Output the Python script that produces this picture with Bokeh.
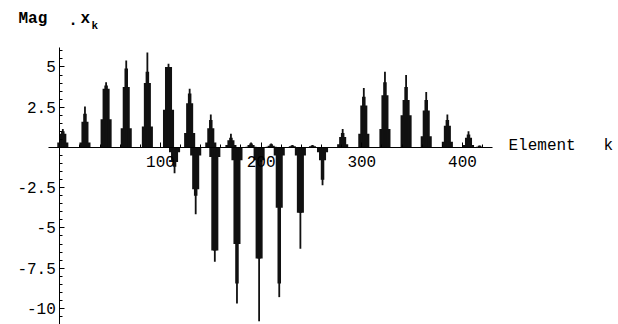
from bokeh.plotting import figure
from bokeh.models import ColumnDataSource, LinearAxis, FixedTicker, Label, Range1d
from bokeh.embed import file_html
from bokeh.resources import INLINE

# Positive clusters: element index and magnitudes at several levels (tip, neck, body, base)
pos_k = [3, 25, 46, 66, 87, 108, 129, 150, 170, 190, 210, 231, 251, 281, 302, 323, 344, 364, 385, 406, 417]
pos_tip = [1.15, 2.55, 4.05, 5.4, 5.9, 5.2, 3.65, 2.05, 0.85, 0.3, 0.25, 0.15, 0.15, 1.15, 3.7, 4.7, 4.5, 3.45, 2.05, 1.0, 0.12]
pos_neck = [1.0, 2.1, 3.85, 4.9, 4.7, 5.0, 3.35, 1.7, 0.6, 0.25, 0.2, 0.12, 0.12, 0.9, 3.15, 4.05, 3.75, 2.95, 1.7, 0.8, 0.1]
pos_body = [0.85, 1.6, 3.65, 3.75, 4.0, 5.0, 2.75, 1.2, 0.45, 0.15, 0.1, 0.08, 0.08, 0.65, 2.6, 3.25, 2.95, 2.3, 1.35, 0.6, 0.05]
pos_base = [0.3, 0.3, 1.75, 1.2, 1.3, 2.35, 0.9, 0.3, 0.15, 0.05, 0.05, 0.03, 0.03, 0.2, 0.85, 1.15, 2.0, 0.7, 0.35, 0.15, 0.02]

# Negative clusters
neg_k = [114, 135, 154, 176, 198, 218, 239, 261]
neg_tip = [-1.6, -4.15, -7.1, -9.7, -10.8, -9.3, -6.3, -2.35]
neg_neck = [-1.2, -3.0, -6.4, -8.45, -6.9, -8.45, -4.05, -2.0]
neg_body = [-0.9, -2.6, -6.4, -6.0, -6.9, -3.75, -4.05, -0.8]
neg_base = [-0.3, -0.5, -0.6, -0.8, -0.8, -0.5, -0.5, -0.3]

x_ticks = [100, 200, 300, 400]
x_tick_labels = ["100", "200", "300", "400"]
y_ticks = [-10, -7.5, -5, -2.5, 2.5, 5]
y_tick_labels = ["-10", "-7.5", "-5", "-2.5", "2.5", "5"]

BAR = "#111111"
FONT = "Liberation Mono"

p = figure(width=618, height=324, output_backend="svg", toolbar_location=None,
           x_range=Range1d(-58.9, 555.0), y_range=Range1d(-11.0, 9.13),
           x_axis_type=None, y_axis_type=None,
           min_border_left=0, min_border_right=0, min_border_top=0, min_border_bottom=0)
p.outline_line_color = None
p.background_fill_color = "white"
p.border_fill_color = "white"

pos = ColumnDataSource(dict(k=pos_k, tip=pos_tip, neck=pos_neck, body=pos_body, base=pos_base))
neg = ColumnDataSource(dict(k=neg_k, tip=neg_tip, neck=neg_neck, body=neg_body, base=neg_base))

widths = [("base", 11), ("body", 7), ("neck", 3.5), ("tip", 1.8)]
for col, w in widths:
    p.vbar(x="k", width=w, top=col, bottom=0, source=pos, fill_color=BAR, line_color=None)
    p.vbar(x="k", width=w, top=0, bottom=col, source=neg, fill_color=BAR, line_color=None)

xaxis = LinearAxis(fixed_location=0, bounds=(-11, 430),
                   ticker=FixedTicker(ticks=x_ticks, minor_ticks=[m for m in range(0, 430, 20) if m not in x_ticks]))
xaxis.major_label_overrides = dict(zip(x_ticks, x_tick_labels))
xaxis.major_tick_in = 5
xaxis.major_tick_out = 0
xaxis.minor_tick_in = 3
xaxis.minor_tick_out = 0
xaxis.major_label_standoff = 9
xaxis.major_label_text_font = FONT
xaxis.major_label_text_font_size = "16px"
xaxis.major_label_text_color = "black"
xaxis.axis_line_color = "black"
p.add_layout(xaxis, "below")

yaxis = LinearAxis(fixed_location=0, bounds=(-11.0, 6.2),
                   ticker=FixedTicker(ticks=y_ticks, minor_ticks=[m * 0.5 for m in range(-22, 13) if m * 0.5 not in y_ticks]))
yaxis.major_label_overrides = dict(zip(y_ticks, y_tick_labels))
yaxis.major_tick_in = 5
yaxis.major_tick_out = 0
yaxis.minor_tick_in = 3
yaxis.minor_tick_out = 0
yaxis.major_label_standoff = 4
yaxis.major_label_text_font = FONT
yaxis.major_label_text_font_size = "16px"
yaxis.major_label_text_color = "black"
yaxis.axis_line_color = "black"
p.add_layout(yaxis, "left")

lab = dict(text_font=FONT, text_color="black", text_baseline="middle", text_align="left")
p.add_layout(Label(x=-41, y=7.95, text="Mag", text_font_size="16px", text_font_style="bold", **lab))
p.add_layout(Label(x=8.5, y=7.95, text=".", text_font_size="16px", text_font_style="bold", **lab))
p.add_layout(Label(x=20.6, y=7.95, text="x", text_font_size="16px", text_font_style="bold", **lab))
p.add_layout(Label(x=31.6, y=7.55, text="k", text_font_size="11px", text_font_style="bold", **lab))
p.add_layout(Label(x=445.7, y=0.1, text="Element", text_font_size="16px", **lab))
p.add_layout(Label(x=540.1, y=0.1, text="k", text_font_size="16px", **lab))

open("out.html", "w").write(file_html(p, INLINE))
